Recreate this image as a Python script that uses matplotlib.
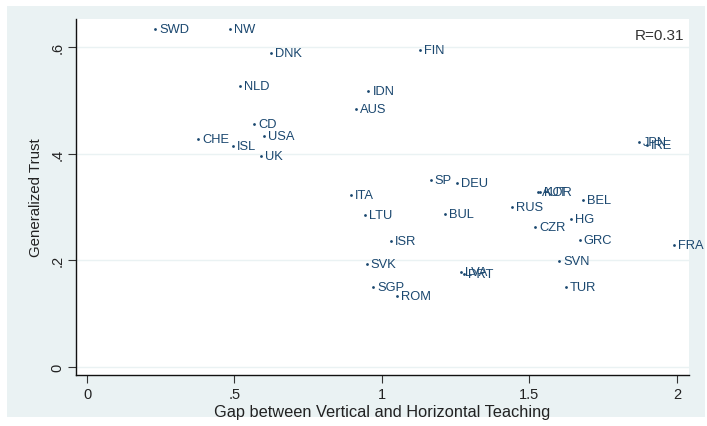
import matplotlib
matplotlib.use("Agg")
import matplotlib.pyplot as plt
from matplotlib.patches import Rectangle

plt.rcParams['font.family'] = ['Liberation Sans', 'DejaVu Sans']

countries = ["SWD", "NW", "DNK", "FIN", "NLD", "IDN", "AUS", "CD", "CHE", "USA",
             "ISL", "UK", "JPN", "IRE", "SP", "DEU", "ITA", "LTU", "BUL", "ISR",
             "SVK", "SGP", "ROM", "LVA", "PRT", "AUT", "KOR", "BEL", "RUS", "HG",
             "CZR", "GRC", "SVN", "TUR", "FRA"]
gap = [0.231, 0.485, 0.624, 1.129, 0.519, 0.954, 0.912, 0.566, 0.377, 0.600,
       0.496, 0.591, 1.872, 1.898, 1.165, 1.253, 0.895, 0.942, 1.214, 1.031,
       0.948, 0.971, 1.052, 1.268, 1.278, 1.530, 1.537, 1.682, 1.442, 1.640,
       1.519, 1.671, 1.601, 1.624, 1.991]
trust = [0.634, 0.634, 0.590, 0.595, 0.527, 0.518, 0.484, 0.456, 0.428, 0.433,
         0.415, 0.396, 0.422, 0.417, 0.351, 0.345, 0.323, 0.285, 0.288, 0.236,
         0.193, 0.150, 0.133, 0.179, 0.174, 0.328, 0.328, 0.314, 0.300, 0.278,
         0.263, 0.239, 0.198, 0.151, 0.229]

xticks = [0, 0.5, 1, 1.5, 2]
xticklabels = ["0", ".5", "1", "1.5", "2"]
yticks = [0, 0.2, 0.4, 0.6]
yticklabels = ["0", ".2", ".4", ".6"]

W, H = 707, 427
fig = plt.figure(figsize=(W / 100, H / 100), dpi=100, facecolor="white")
bg = Rectangle((7 / W, 1 - 418 / H), (705 - 7) / W, (418 - 7) / H,
               transform=fig.transFigure, facecolor="#EAF2F3", edgecolor="none", zorder=-10)
fig.patches.append(bg)

ax = fig.add_axes([76 / W, 1 - 376 / H, (689 - 76) / W, (376 - 20) / H])
ax.set_zorder(1)
ax.set_facecolor("white")
ax.set_xlim(-0.0373, 2.041)
ax.set_ylim(-0.015, 0.653)

for yt in yticks:
    ax.axhline(yt, color="#EAF2F3", lw=1.0, zorder=0)

navy = "#1A476F"
ax.scatter(gap, trust, s=4, color=navy, zorder=3, linewidths=0)
for c, x, y in zip(countries, gap, trust):
    ax.annotate(c, (x, y), xytext=(4, 0), textcoords="offset pixels",
                va="center", ha="left", fontsize=9.3, color=navy, zorder=4)

ax.text(0.9925, 0.975, "R=0.31", transform=ax.transAxes, ha="right", va="top",
        fontsize=11, color="#333333")

ax.set_xticks(xticks)
ax.set_xticklabels(xticklabels)
ax.set_yticks(yticks)
ax.set_yticklabels(yticklabels, rotation=90, va="center")
ax.tick_params(axis="both", direction="out", length=5.5, width=0.8, color="#333333",
               labelsize=10.5, labelcolor="#222222", pad=3)
for s in ["top", "right"]:
    ax.spines[s].set_visible(False)
for s in ["left", "bottom"]:
    ax.spines[s].set_color("#111111")
    ax.spines[s].set_linewidth(1.0)

ax.set_xlabel("Gap between Vertical and Horizontal Teaching", fontsize=11.8, color="#222222", labelpad=2)
ax.set_ylabel("Generalized Trust", fontsize=10.8, color="#222222", labelpad=5)

fig.savefig("out.png", dpi=100, facecolor="white")
